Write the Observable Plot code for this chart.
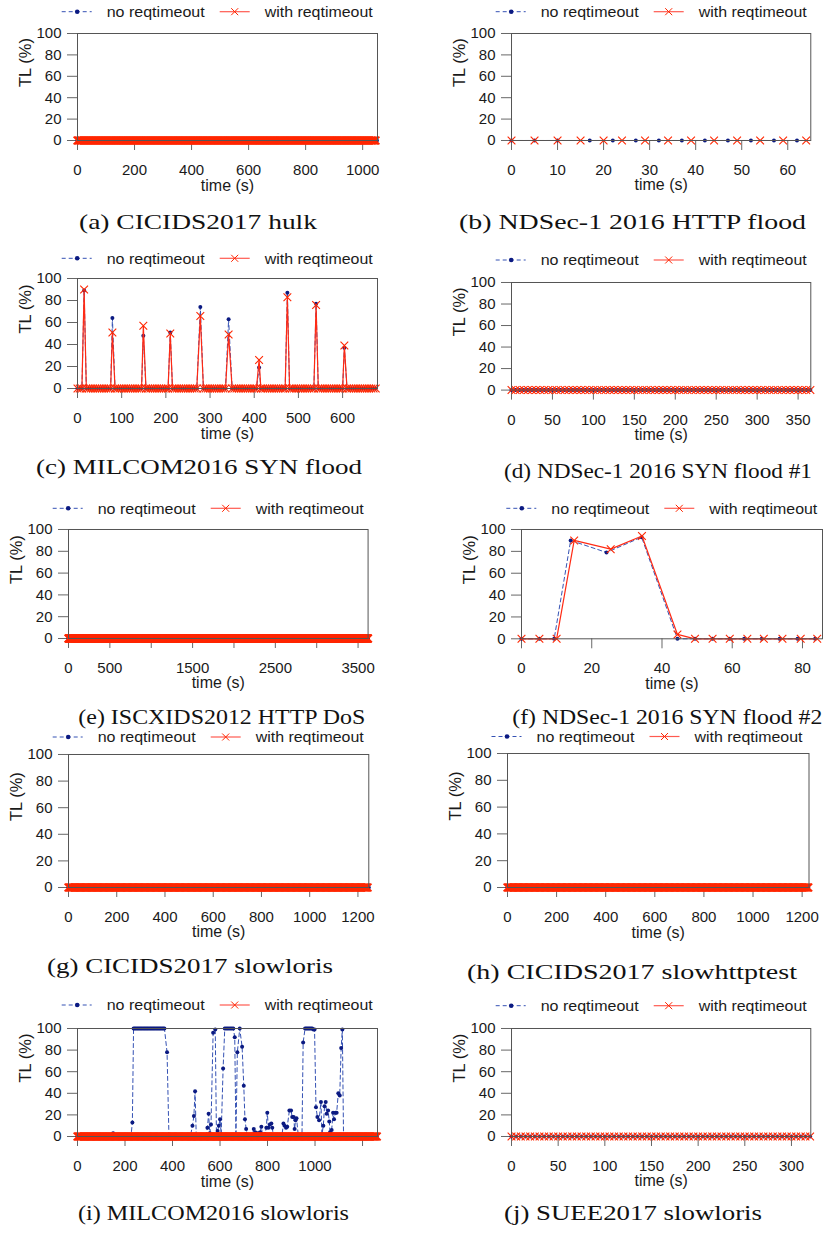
<!DOCTYPE html>
<html><head><meta charset="utf-8">
<script src="https://cdn.jsdelivr.net/npm/d3@7"></script>
<script src="https://cdn.jsdelivr.net/npm/@observablehq/plot@0.6"></script>
<style>
body{margin:0;background:#fff;}
#root{position:relative;width:827px;height:1236px;overflow:hidden;background:#fff;}
#root svg{position:absolute;}
</style></head><body><div id="root"></div>
<script>
// ---------------- data ----------------
const seriesNames = ["no reqtimeout", "with reqtimeout"];
const yTicks = [0, 20, 40, 60, 80, 100];
const sampleStep = 5; // observed sampling interval (s); all-zero series sampled on it

// (a) CICIDS2017 hulk: both series 0 over the whole run
const aDuration = 1050;
// (b) NDSec-1 2016 HTTP flood: all 0
const bBlueT = [0, 5, 10, 17, 22, 27, 32, 37, 42, 47, 52, 57, 62];
const bRedT = [0, 5, 10, 15, 20, 24, 29, 34, 39, 44, 49, 54, 59, 64];
// (c) MILCOM2016 SYN flood: zero except peaks
const cDuration = 675;
const cPeakT = [15, 79, 149, 210, 278, 342, 411, 475, 540, 604];
const cPeakBlue = [89, 64, 48, 51, 74, 63, 19, 87, 77, 37];
const cPeakRed = [90, 51, 57, 50, 66, 49, 26, 83, 76, 39];
// (d) NDSec-1 2016 SYN flood #1
const dDuration = 365;
// (e) ISCXIDS2012 HTTP DoS
const eDuration = 3620;
// (f) NDSec-1 2016 SYN flood #2
const fBlueT = [0, 5.1, 9.3, 14, 24.2, 34.2, 44.4, 49.4, 54.4, 59.3, 63.4, 68.4, 73.5, 78.6, 83.6];
const fBlueV = [0, 0, 0, 90, 79, 93, 0, 0, 0, 0, 0, 0, 0, 0, 0];
const fRedT = [0, 5.1, 10, 15, 25.4, 34.3, 44.4, 49.4, 54.4, 59.3, 64.3, 69, 74.3, 79.5, 84.2];
const fRedV = [0, 0, 0, 90, 82, 94, 4, 0, 0, 0, 0, 0, 0, 0, 0];
// (g) CICIDS2017 slowloris
const gDuration = 1245;
// (h) CICIDS2017 slowhttptest
const hDuration = 1228;
// (i) MILCOM2016 slowloris: non-zero readings of "no reqtimeout" [t, TL]
const iDuration = 1263;
const iBlueNonZero = [
  [150,3],[231,13],
  [236,100],[241,100],[246,100],[251,100],[256,100],[261,100],[266,100],[271,100],[276,100],
  [281,100],[286,100],[291,100],[296,100],[301,100],[306,100],[311,100],[316,100],[321,100],
  [326,100],[331,100],[336,100],[341,100],[346,100],[351,100],[356,100],[361,100],[366,100],
  [377,78],
  [484,10],[490,19],[495,42],
  [547,8],[552,21],[557,3],[562,11],[571,96],[580,99],[590,5],[595,10],[600,16],[605,2],[613,63],
  [620,100],[626,100],[632,100],[638,100],[644,100],[650,100],[656,100],
  [662,92],[667,0],[673,78],[683,100],[693,83],[700,47],[705,16],[710,7],
  [742,7],[748,4],[755,3],[762,3],[769,4],[774,9],[789,2],[795,8],[799,22],[804,8],[810,11],[816,12],[820,8],
  [867,12],[872,10],[878,8],[883,9],[892,24],[899,24],[904,18],[910,18],[914,7],[918,15],[922,17],
  [950,87],[958,100],[963,100],[968,100],[973,100],[978,100],[983,100],[988,100],[993,99],[998,99],
  [1004,27],[1010,18],[1017,15],[1025,32],[1029,2],[1035,10],[1040,28],[1045,32],[1049,21],[1055,24],
  [1060,14],[1063,4],[1070,6],[1076,22],[1080,16],[1086,22],[1091,22],[1098,40],[1104,38],[1110,82],[1115,99]
];
// (j) SUEE2017 slowloris
const jDuration = 320;

const captions = [
  "(a) CICIDS2017 hulk", "(b) NDSec-1 2016 HTTP flood", "(c) MILCOM2016 SYN flood",
  "(d) NDSec-1 2016 SYN flood #1", "(e) ISCXIDS2012 HTTP DoS", "(f) NDSec-1 2016 SYN flood #2",
  "(g) CICIDS2017 slowloris", "(h) CICIDS2017 slowhttptest", "(i) MILCOM2016 slowloris",
  "(j) SUEE2017 slowloris"
];

// ---------------- series builders ----------------
const zeros = end => d3.range(0, end + 1e-9, sampleStep).map(t => ({t, v: 0}));
const fromArrays = (ts, vs) => ts.map((t, i) => ({t, v: vs ? vs[i] : 0}));
function merge(end, pairs, gap) {
  const pts = pairs.map(([t, v]) => ({t, v}));
  const base = zeros(end).filter(p => !pairs.some(([t]) => Math.abs(t - p.t) < gap));
  return base.concat(pts).sort((a, b) => a.t - b.t);
}

const BLUE_DOT = "#0b1a82", BLUE_LINE = "#3552b4", RED_LINE = "#ff2a14", RED_X = "#ff2600";
const GRID = "#555", TXT = "#1a1a1a";

// ---------------- layout (frame pixel positions) ----------------
const panels = [
  {L:76.7, R:376.7, T:33, Z:140, xmax:1052, xt:d3.range(0,1001,200), xl:null,
   blue:zeros(aDuration), red:zeros(aDuration-2), leg:11.7, cap:[79,229,238]},
  {L:510.7, R:810, T:33, Z:140, xmax:65, xt:d3.range(0,61,10), xl:null,
   blue:fromArrays(bBlueT), red:fromArrays(bRedT), leg:11.7, cap:[459,229,347]},
  {L:76.7, R:376.7, T:278.3, Z:388.3, xmax:679, xt:d3.range(0,601,100), xl:null,
   blue:merge(cDuration, cPeakT.map((t,i)=>[t,cPeakBlue[i]]), 3.5),
   red:merge(cDuration, cPeakT.map((t,i)=>[t,cPeakRed[i]]), 3.5), leg:258.3, cap:[36,474,326]},
  {L:510.7, R:810, T:281.7, Z:389.3, xmax:365.5, xt:d3.range(0,351,50), xl:null,
   blue:zeros(dDuration), red:zeros(dDuration), leg:260, cap:[504,478,308]},
  {L:67.7, R:367.3, T:529.3, Z:638.3, xmax:3621, xt:d3.range(0,3501,500), xl:[0,500,1500,2500,3500],
   blue:zeros(eDuration), red:zeros(eDuration), leg:508.3, cap:[78.3,724,287]},
  {L:521.3, R:822.3, T:529, Z:638.3, xmax:85.7, xt:d3.range(0,81,20), xl:null,
   blue:fromArrays(fBlueT,fBlueV), red:fromArrays(fRedT,fRedV), leg:508.3, cap:[512.3,724,310]},
  {L:67.7, R:368, T:754, Z:887, xmax:1245, xt:d3.range(0,1201,200), xl:null,
   blue:zeros(gDuration), red:zeros(gDuration-5), leg:737, cap:[47,973,286]},
  {L:506.5, R:808, T:753, Z:887, xmax:1228, xt:d3.range(0,1201,200), xl:null,
   blue:zeros(hDuration), red:zeros(hDuration), leg:736.5, cap:[467,979,330]},
  {L:76.7, R:376.7, T:1027.7, Z:1135.7, xmax:1263, xt:d3.range(0,1201,200), xl:d3.range(0,1001,200),
   blue:merge(iDuration, iBlueNonZero, 5), red:zeros(iDuration), leg:1005, cap:[78,1220,271]},
  {L:510.7, R:810, T:1027.7, Z:1135.7, xmax:320.7, xt:d3.range(0,301,50), xl:null,
   blue:zeros(jDuration), red:zeros(jDuration), leg:1005.7, cap:[504,1220,258]}
];

const root = document.getElementById("root");
const mL = 64, mR = 14, mT = 8, mB = 64;

panels.forEach(p => {
  const fw = p.R - p.L, fh = p.Z - p.T;
  const spacing = fw / p.xmax * sampleStep;      // px between samples
  const dense = spacing < 2.0;
  const chart = Plot.plot({
    width: fw + mL + mR, height: fh + mT + mB,
    marginLeft: mL, marginRight: mR, marginTop: mT, marginBottom: mB,
    style: {background: "transparent", overflow: "visible", fontFamily: "'Liberation Sans', Arial, sans-serif",
            fontSize: "15px", color: TXT},
    x: {domain: [0, p.xmax]},
    y: {domain: [0, 100]},
    marks: [
      Plot.axisX({ticks: p.xt, tickSize: 10, tickPadding: 14, stroke: "#666", fill: TXT, label: null,
                  tickFormat: d => (p.xl && !p.xl.includes(d)) ? "" : String(d)}),
      Plot.axisY({ticks: yTicks, tickSize: 10, tickPadding: 6, stroke: "#666", fill: TXT, label: null}),
      Plot.text(["time (s)"], {frameAnchor: "bottom", dy: 50, fontSize: 16}),
      Plot.text(["TL (%)"], {frameAnchor: "left", dx: -52, rotate: -90, fontSize: 16.5}),
      Plot.line(p.blue, {x: "t", y: "v", stroke: BLUE_LINE, strokeWidth: 1, strokeDasharray: "4,3"}),
      Plot.dot(p.blue, {x: "t", y: "v", r: 2, fill: BLUE_DOT, stroke: "none"}),
      Plot.line(p.red, {x: "t", y: "v", stroke: RED_LINE, strokeWidth: dense ? 1.6 : 1.2}),
      Plot.dot(p.red, {x: "t", y: "v", r: 3.6, symbol: "times", stroke: RED_X, fill: "none",
                       strokeWidth: dense ? 1.9 : 1.1}),
      Plot.frame({stroke: GRID})
    ]
  });
  chart.style.left = (p.L - mL) + "px";
  chart.style.top = (p.T - mT) + "px";
  root.appendChild(chart);
});

// ---------------- legends & captions ----------------
const ov = d3.select(root).append("svg").attr("width", 827).attr("height", 1236)
  .style("left", "0px").style("top", "0px").style("overflow", "visible");
panels.forEach((p, k) => {
  const L = p.L, y = p.leg;
  const g = ov.append("g");
  g.append("line").attr("x1", L - 15).attr("x2", L + 15).attr("y1", y).attr("y2", y)
    .attr("stroke", BLUE_LINE).attr("stroke-dasharray", "4,3");
  g.append("circle").attr("cx", L + 0.5).attr("cy", y).attr("r", 2.3).attr("fill", BLUE_DOT);
  g.append("text").attr("x", L + 30).attr("y", y + 5.3).text(seriesNames[0])
    .attr("font-family", "'Liberation Sans', Arial, sans-serif").attr("font-size", 15).attr("fill", TXT)
    .attr("textLength", 98).attr("lengthAdjust", "spacingAndGlyphs");
  g.append("line").attr("x1", L + 143).attr("x2", L + 173).attr("y1", y).attr("y2", y)
    .attr("stroke", "#ff5a50").attr("stroke-width", 1.2);
  g.append("path").attr("d", `M${L+154.5},${y-3.5}L${L+161.5},${y+3.5}M${L+154.5},${y+3.5}L${L+161.5},${y-3.5}`)
    .attr("stroke", RED_X).attr("stroke-width", 1);
  g.append("text").attr("x", L + 188).attr("y", y + 5.3).text(seriesNames[1])
    .attr("font-family", "'Liberation Sans', Arial, sans-serif").attr("font-size", 15).attr("fill", TXT)
    .attr("textLength", 108).attr("lengthAdjust", "spacingAndGlyphs");
  const [cx, cy, cw] = p.cap;
  ov.append("text").attr("x", cx).attr("y", cy).text(captions[k])
    .attr("font-family", "'Liberation Serif', 'Times New Roman', serif").attr("font-size", 21)
    .attr("fill", "#111").attr("textLength", cw).attr("lengthAdjust", "spacingAndGlyphs");
});
</script></body></html>
